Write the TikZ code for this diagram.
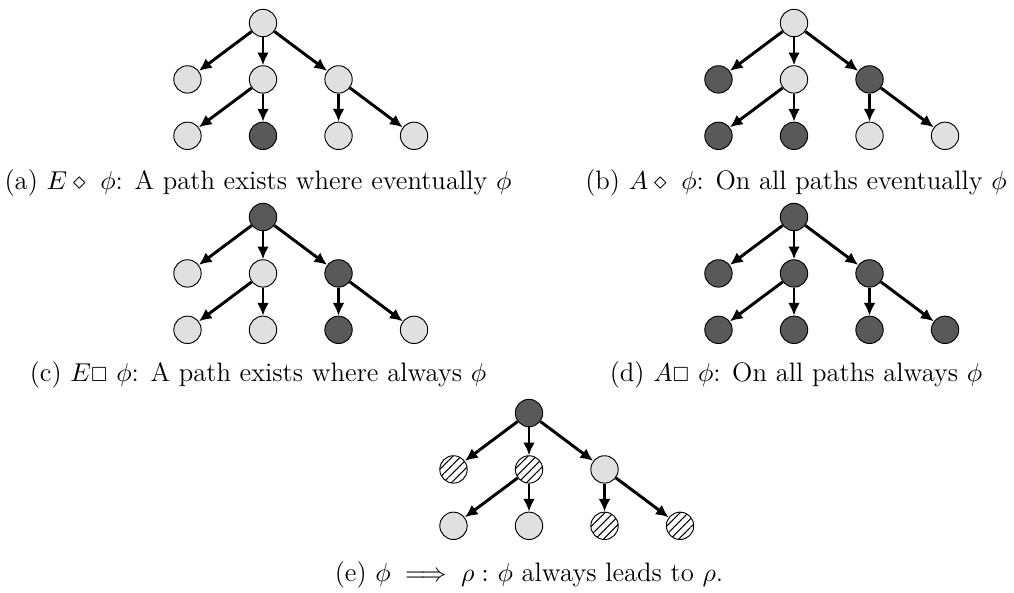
\documentclass[tikz,border=0pt]{standalone}
\usepackage{amsmath,amssymb}
\usepackage{xcolor}
\usepackage{tikz}
\usetikzlibrary{arrows.meta, positioning, patterns.meta}

\begin{document}
\begin{tikzpicture}[
    x=0.4237pt, y=-0.4237pt,
    node distance=23.9pt and 32pt, on grid,
    state/.style={circle, draw=black, line width=0.4pt, minimum size=11.6pt, inner sep=0pt, fill=black!12},
    sat/.style={state, fill=black!65},
    hatch/.style={state, fill=none, pattern={Lines[angle=45, distance=2.5pt, line width=0.45pt]}},
    arrow/.style={-{Latex[length=5.4pt, width=5pt]}, line width=1.25pt},
    caption/.style={inner sep=0pt, font=\fontsize{11.3}{13.5}\selectfont},
]
\useasboundingbox (0,0) rectangle (1014,592);

% (a) E<> phi
\node[state] (a0) at (263,23) {};
\node[state, below left=of a0] (a1) {};
\node[state, below=of a0] (a2) {};
\node[state, below right=of a0] (a3) {};
\node[state, below left=of a2] (a4) {};
\node[sat, below=of a2] (a5) {};
\node[state, below=of a3] (a6) {};
\node[state, below right=of a3] (a7) {};
\draw[arrow] (a0) edge (a1) edge (a2) edge (a3) (a2) edge (a4) edge (a5) (a3) edge (a6) edge (a7);
\node[caption] (capa) at (258,183) {(a) $E\diamond\ \phi$: A path exists where eventually $\phi$};

% (b) A<> phi
\node[state] (b0) at (794,23) {};
\node[sat, below left=of b0] (b1) {};
\node[state, below=of b0] (b2) {};
\node[sat, below right=of b0] (b3) {};
\node[sat, below left=of b2] (b4) {};
\node[sat, below=of b2] (b5) {};
\node[state, below=of b3] (b6) {};
\node[state, below right=of b3] (b7) {};
\draw[arrow] (b0) edge (b1) edge (b2) edge (b3) (b2) edge (b4) edge (b5) (b3) edge (b6) edge (b7);
\node[caption] (capb) at (796,183) {(b) $A\diamond\ \phi$: On all paths eventually $\phi$};

% (c) E[] phi
\node[sat] (c0) at (263,217) {};
\node[state, below left=of c0] (c1) {};
\node[state, below=of c0] (c2) {};
\node[sat, below right=of c0] (c3) {};
\node[state, below left=of c2] (c4) {};
\node[state, below=of c2] (c5) {};
\node[sat, below=of c3] (c6) {};
\node[state, below right=of c3] (c7) {};
\draw[arrow] (c0) edge (c1) edge (c2) edge (c3) (c2) edge (c4) edge (c5) (c3) edge (c6) edge (c7);
\node[caption] (capc) at (258,375) {(c) $E{\scriptstyle\square}\ \phi$: A path exists where always $\phi$};

% (d) A[] phi
\node[sat] (d0) at (794,217) {};
\node[sat, below left=of d0] (d1) {};
\node[sat, below=of d0] (d2) {};
\node[sat, below right=of d0] (d3) {};
\node[sat, below left=of d2] (d4) {};
\node[sat, below=of d2] (d5) {};
\node[sat, below=of d3] (d6) {};
\node[sat, below right=of d3] (d7) {};
\draw[arrow] (d0) edge (d1) edge (d2) edge (d3) (d2) edge (d4) edge (d5) (d3) edge (d6) edge (d7);
\node[caption] (capd) at (796,375) {(d) $A{\scriptstyle\square}\ \phi$: On all paths always $\phi$};

% (e) leads to
\node[sat] (e0) at (529,413) {};
\node[hatch, below left=of e0] (e1) {};
\node[hatch, below=of e0] (e2) {};
\node[state, below right=of e0] (e3) {};
\node[state, below left=of e2] (e4) {};
\node[state, below=of e2] (e5) {};
\node[hatch, below=of e3] (e6) {};
\node[hatch, below right=of e3] (e7) {};
\draw[arrow] (e0) edge (e1) edge (e2) edge (e3) (e2) edge (e4) edge (e5) (e3) edge (e6) edge (e7);
\node[caption] (cape) at (529,575) {(e) $\phi\implies\rho:$ $\phi$ always leads to $\rho$.};
\end{tikzpicture}
\end{document}
